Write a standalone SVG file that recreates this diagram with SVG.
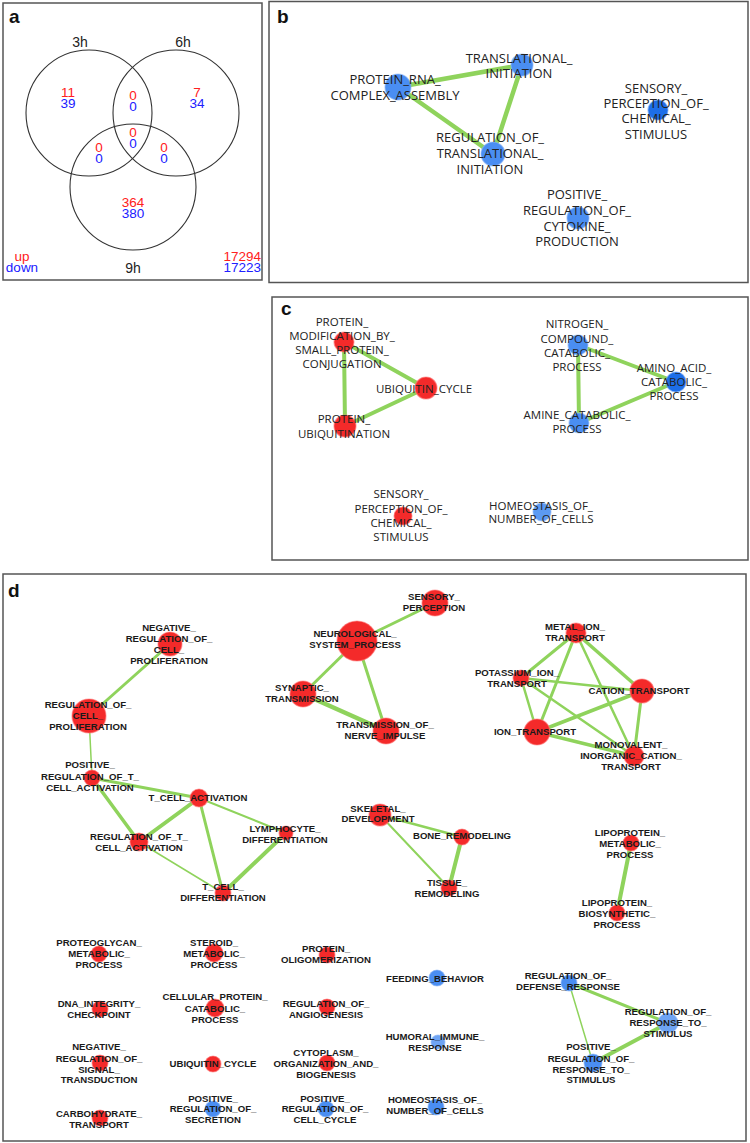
<svg xmlns="http://www.w3.org/2000/svg" width="750" height="1143" viewBox="0 0 750 1143">
<style>
.frame{fill:none;stroke:#555;stroke-width:1.5}
.plab{font-family:"Liberation Sans",Arial,sans-serif;font-weight:bold;font-size:19px;fill:#111}
.venn{fill:none;stroke:#333;stroke-width:1.1}
.vt{font-family:"Liberation Sans",Arial,sans-serif;font-size:13.5px;text-anchor:middle}
.up{fill:#ff2020}.dn{fill:#2020ff}
.vl{font-family:"Liberation Sans",Arial,sans-serif;font-size:14px;fill:#222;text-anchor:middle}
.e{stroke:#8fd35c;stroke-linecap:round;fill:none}
.nr{fill:#f42a2a;stroke:#f77;stroke-width:1.2;stroke-opacity:0.6}
.nb{fill:#4a8ef2;stroke:#8ab4f5;stroke-width:1.2;stroke-opacity:0.6}
.nbd{fill:#1d6ee8;stroke:#6a9ef0;stroke-width:1.2;stroke-opacity:0.6}
.tb{font-family:"Open Sans","Noto Sans",sans-serif;font-size:13px;fill:#222;text-anchor:middle}
.tc{font-family:"Open Sans","Noto Sans",sans-serif;font-size:11.5px;fill:#222;text-anchor:middle}
.td{font-family:"Liberation Sans",Arial,sans-serif;font-weight:bold;font-size:9.6px;fill:#1a1a1a;text-anchor:middle}
</style>

<!-- Panel frames -->
<rect class="frame" x="3" y="3" width="259" height="277"/>
<rect class="frame" x="269" y="1.5" width="479" height="281"/>
<rect class="frame" x="272" y="297" width="476" height="263"/>
<rect class="frame" x="3" y="574" width="743" height="567"/>
<text class="plab" x="9" y="23">a</text>
<text class="plab" x="277" y="23">b</text>
<text class="plab" x="281" y="315">c</text>
<text class="plab" x="8" y="597">d</text>

<!-- Panel a: Venn -->
<g id="venn">
<circle class="venn" cx="89" cy="113" r="63"/>
<circle class="venn" cx="176" cy="113" r="63"/>
<circle class="venn" cx="133" cy="187" r="63"/>
<text class="vl" x="80" y="47">3h</text>
<text class="vl" x="183" y="47">6h</text>
<text class="vl" x="133" y="273">9h</text>
<text class="vt up" x="68" y="97">11</text><text class="vt dn" x="68" y="107.5">39</text>
<text class="vt up" x="133" y="100">0</text><text class="vt dn" x="133" y="110.5">0</text>
<text class="vt up" x="197" y="97">7</text><text class="vt dn" x="197" y="107.5">34</text>
<text class="vt up" x="133" y="137">0</text><text class="vt dn" x="133" y="147.5">0</text>
<text class="vt up" x="99" y="152">0</text><text class="vt dn" x="99" y="162.5">0</text>
<text class="vt up" x="164" y="152">0</text><text class="vt dn" x="164" y="162.5">0</text>
<text class="vt up" x="133" y="207">364</text><text class="vt dn" x="133" y="218">380</text>
<text class="vt up" x="22" y="261">up</text><text class="vt dn" x="22" y="272">down</text>
<text class="vt up" x="261" y="261" style="text-anchor:end">17294</text>
<text class="vt dn" x="261" y="272" style="text-anchor:end">17223</text>
</g>

<!-- Connectors -->
<g id="connectors">
<!-- b -->
<line class="e" stroke-width="4.5" x1="398" y1="87" x2="522" y2="65"/>
<line class="e" stroke-width="4.5" x1="398" y1="87" x2="493" y2="154"/>
<line class="e" stroke-width="4.5" x1="522" y1="65" x2="493" y2="154"/>
<!-- c -->
<line class="e" stroke-width="4" x1="344" y1="342" x2="426" y2="388"/>
<line class="e" stroke-width="4" x1="344" y1="342" x2="345" y2="426"/>
<line class="e" stroke-width="4" x1="426" y1="388" x2="345" y2="426"/>
<line class="e" stroke-width="4" x1="578" y1="345" x2="676" y2="382"/>
<line class="e" stroke-width="4" x1="578" y1="345" x2="579" y2="423"/>
<line class="e" stroke-width="4" x1="579" y1="423" x2="676" y2="382"/>
<!-- d -->
<line class="e" stroke-width="3" x1="170" y1="644" x2="89" y2="716"/>
<line class="e" stroke-width="1.5" x1="89" y1="716" x2="92" y2="778"/>
<line class="e" stroke-width="3" x1="92" y1="778" x2="199" y2="798"/>
<line class="e" stroke-width="3.5" x1="92" y1="778" x2="139" y2="842"/>
<line class="e" stroke-width="4" x1="199" y1="798" x2="139" y2="842"/>
<line class="e" stroke-width="2" x1="199" y1="798" x2="286" y2="833"/>
<line class="e" stroke-width="3" x1="199" y1="798" x2="223" y2="893"/>
<line class="e" stroke-width="1.5" x1="139" y1="842" x2="223" y2="893"/>
<line class="e" stroke-width="4" x1="286" y1="833" x2="223" y2="893"/>
<line class="e" stroke-width="3" x1="357" y1="641" x2="435" y2="603"/>
<line class="e" stroke-width="3" x1="357" y1="641" x2="303" y2="694"/>
<line class="e" stroke-width="3" x1="357" y1="641" x2="386" y2="731"/>
<line class="e" stroke-width="4.5" x1="303" y1="694" x2="386" y2="731"/>
<line class="e" stroke-width="2.5" x1="380" y1="815" x2="462" y2="837"/>
<line class="e" stroke-width="2" x1="380" y1="815" x2="449" y2="888"/>
<line class="e" stroke-width="4" x1="462" y1="837" x2="449" y2="888"/>
<line class="e" stroke-width="3" x1="576" y1="633" x2="521" y2="678"/>
<line class="e" stroke-width="3.5" x1="576" y1="633" x2="642" y2="691"/>
<line class="e" stroke-width="3" x1="576" y1="633" x2="537" y2="732"/>
<line class="e" stroke-width="2.5" x1="576" y1="633" x2="634" y2="756"/>
<line class="e" stroke-width="2.5" x1="521" y1="678" x2="642" y2="691"/>
<line class="e" stroke-width="2.5" x1="521" y1="678" x2="537" y2="732"/>
<line class="e" stroke-width="2.5" x1="521" y1="678" x2="634" y2="756"/>
<line class="e" stroke-width="3.5" x1="642" y1="691" x2="537" y2="732"/>
<line class="e" stroke-width="3" x1="642" y1="691" x2="634" y2="756"/>
<line class="e" stroke-width="3.5" x1="537" y1="732" x2="634" y2="756"/>
<line class="e" stroke-width="4" x1="631" y1="843" x2="617" y2="913"/>
<line class="e" stroke-width="3" x1="569" y1="983" x2="668" y2="1023"/>
<line class="e" stroke-width="1.5" x1="569" y1="983" x2="593" y2="1063"/>
<line class="e" stroke-width="4" x1="668" y1="1023" x2="593" y2="1063"/>
</g>

<!-- Panel b nodes -->
<g id="b_protein_rna_complex_assembly"><circle class="nb" cx="398" cy="87" r="13"/><text class="tb"><tspan x="395" y="84">PROTEIN_RNA_</tspan><tspan x="395" y="100">COMPLEX_ASSEMBLY</tspan></text></g>
<g id="b_translational_initiation"><circle class="nb" cx="522" cy="65" r="11"/><text class="tb"><tspan x="519" y="63">TRANSLATIONAL_</tspan><tspan x="519" y="78">INITIATION</tspan></text></g>
<g id="b_regulation_of_translational_initiation"><circle class="nb" cx="493" cy="154" r="12"/><text class="tb"><tspan x="490" y="142">REGULATION_OF_</tspan><tspan x="490" y="158">TRANSLATIONAL_</tspan><tspan x="490" y="174">INITIATION</tspan></text></g>
<g id="b_sensory_perception_of_chemical_stimulus"><circle class="nbd" cx="658" cy="110" r="10"/><text class="tb"><tspan x="656" y="93">SENSORY_</tspan><tspan x="656" y="108">PERCEPTION_OF_</tspan><tspan x="656" y="123">CHEMICAL_</tspan><tspan x="656" y="139">STIMULUS</tspan></text></g>
<g id="b_positive_regulation_of_cytokine_production"><circle class="nb" cx="578" cy="218" r="11"/><text class="tb"><tspan x="577" y="199">POSITIVE_</tspan><tspan x="577" y="215">REGULATION_OF_</tspan><tspan x="577" y="231">CYTOKINE_</tspan><tspan x="577" y="246">PRODUCTION</tspan></text></g>

<!-- Panel c nodes -->
<g id="c_protein_modification"><circle class="nr" cx="344" cy="342" r="10"/><text class="tc"><tspan x="342" y="326">PROTEIN_</tspan><tspan x="342" y="340">MODIFICATION_BY_</tspan><tspan x="342" y="354">SMALL_PROTEIN_</tspan><tspan x="342" y="368">CONJUGATION</tspan></text></g>
<g id="c_ubiquitin_cycle"><circle class="nr" cx="426" cy="388" r="11"/><text class="tc" x="424" y="393">UBIQUITIN_CYCLE</text></g>
<g id="c_protein_ubiquitination"><circle class="nr" cx="345" cy="426" r="11"/><text class="tc"><tspan x="344" y="423">PROTEIN_</tspan><tspan x="344" y="438">UBIQUITINATION</tspan></text></g>
<g id="c_nitrogen_compound_catabolic_process"><circle class="nb" cx="578" cy="345" r="10"/><text class="tc"><tspan x="577" y="328">NITROGEN_</tspan><tspan x="577" y="343">COMPOUND_</tspan><tspan x="577" y="357">CATABOLIC_</tspan><tspan x="577" y="371">PROCESS</tspan></text></g>
<g id="c_amino_acid_catabolic_process"><circle class="nbd" cx="676" cy="382" r="10"/><text class="tc"><tspan x="674" y="372">AMINO_ACID_</tspan><tspan x="674" y="386">CATABOLIC_</tspan><tspan x="674" y="400">PROCESS</tspan></text></g>
<g id="c_amine_catabolic_process"><circle class="nb" cx="579" cy="423" r="10"/><text class="tc"><tspan x="577" y="419">AMINE_CATABOLIC_</tspan><tspan x="577" y="433">PROCESS</tspan></text></g>
<g id="c_sensory_perception_of_chemical_stimulus"><circle class="nr" cx="403" cy="516" r="9"/><text class="tc"><tspan x="401" y="498">SENSORY_</tspan><tspan x="401" y="513">PERCEPTION_OF_</tspan><tspan x="401" y="527">CHEMICAL_</tspan><tspan x="401" y="541">STIMULUS</tspan></text></g>
<g id="c_homeostasis_of_number_of_cells"><circle class="nb" cx="542" cy="512" r="9" style="fill:#5c9af2"/><text class="tc"><tspan x="541" y="510">HOMEOSTASIS_OF_</tspan><tspan x="541" y="523">NUMBER_OF_CELLS</tspan></text></g>

<!-- Panel d nodes -->
<g id="d_negative_regulation_of_cell_proliferation"><circle class="nr" cx="170" cy="644" r="12"/><text class="td"><tspan x="169" y="631">NEGATIVE_</tspan><tspan x="169" y="642">REGULATION_OF_</tspan><tspan x="169" y="653">CELL_</tspan><tspan x="169" y="664">PROLIFERATION</tspan></text></g>
<g id="d_regulation_of_cell_proliferation"><circle class="nr" cx="89" cy="716" r="17"/><text class="td"><tspan x="88" y="708">REGULATION_OF_</tspan><tspan x="88" y="719">CELL_</tspan><tspan x="88" y="730">PROLIFERATION</tspan></text></g>
<g id="d_positive_regulation_of_t_cell_activation"><circle class="nr" cx="92" cy="778" r="8"/><text class="td"><tspan x="90" y="768">POSITIVE_</tspan><tspan x="90" y="780">REGULATION_OF_T_</tspan><tspan x="90" y="791">CELL_ACTIVATION</tspan></text></g>
<g id="d_t_cell_activation"><circle class="nr" cx="199" cy="798" r="9"/><text class="td" x="198" y="801">T_CELL_ACTIVATION</text></g>
<g id="d_regulation_of_t_cell_activation"><circle class="nr" cx="139" cy="842" r="9"/><text class="td"><tspan x="139" y="840">REGULATION_OF_T_</tspan><tspan x="139" y="851">CELL_ACTIVATION</tspan></text></g>
<g id="d_lymphocyte_differentiation"><circle class="nr" cx="286" cy="833" r="7"/><text class="td"><tspan x="285" y="832">LYMPHOCYTE_</tspan><tspan x="285" y="843">DIFFERENTIATION</tspan></text></g>
<g id="d_t_cell_differentiation"><circle class="nr" cx="223" cy="893" r="8"/><text class="td"><tspan x="223" y="890">T_CELL_</tspan><tspan x="223" y="901">DIFFERENTIATION</tspan></text></g>
<g id="d_sensory_perception"><circle class="nr" cx="435" cy="603" r="13"/><text class="td"><tspan x="434" y="600">SENSORY_</tspan><tspan x="434" y="611">PERCEPTION</tspan></text></g>
<g id="d_neurological_system_process"><circle class="nr" cx="357" cy="641" r="20"/><text class="td"><tspan x="355" y="637">NEUROLOGICAL_</tspan><tspan x="355" y="648">SYSTEM_PROCESS</tspan></text></g>
<g id="d_synaptic_transmission"><circle class="nr" cx="303" cy="694" r="13"/><text class="td"><tspan x="302" y="691">SYNAPTIC_</tspan><tspan x="302" y="702">TRANSMISSION</tspan></text></g>
<g id="d_transmission_of_nerve_impulse"><circle class="nr" cx="386" cy="731" r="13"/><text class="td"><tspan x="385" y="728">TRANSMISSION_OF_</tspan><tspan x="385" y="739">NERVE_IMPULSE</tspan></text></g>
<g id="d_metal_ion_transport"><circle class="nr" cx="576" cy="633" r="10"/><text class="td"><tspan x="575" y="630">METAL_ION_</tspan><tspan x="575" y="641">TRANSPORT</tspan></text></g>
<g id="d_potassium_ion_transport"><circle class="nr" cx="521" cy="678" r="8"/><text class="td"><tspan x="517" y="676">POTASSIUM_ION_</tspan><tspan x="517" y="687">TRANSPORT</tspan></text></g>
<g id="d_cation_transport"><circle class="nr" cx="642" cy="691" r="12"/><text class="td" x="639" y="694">CATION_TRANSPORT</text></g>
<g id="d_ion_transport"><circle class="nr" cx="537" cy="732" r="13"/><text class="td" x="535" y="735">ION_TRANSPORT</text></g>
<g id="d_monovalent_inorganic_cation_transport"><circle class="nr" cx="634" cy="756" r="10"/><text class="td"><tspan x="631" y="748">MONOVALENT_</tspan><tspan x="631" y="759">INORGANIC_CATION_</tspan><tspan x="631" y="770">TRANSPORT</tspan></text></g>
<g id="d_skeletal_development"><circle class="nr" cx="380" cy="815" r="11"/><text class="td"><tspan x="378" y="812">SKELETAL_</tspan><tspan x="378" y="822">DEVELOPMENT</tspan></text></g>
<g id="d_bone_remodeling"><circle class="nr" cx="462" cy="837" r="8"/><text class="td" x="462" y="839">BONE_REMODELING</text></g>
<g id="d_tissue_remodeling"><circle class="nr" cx="449" cy="888" r="8"/><text class="td"><tspan x="447" y="886">TISSUE_</tspan><tspan x="447" y="897">REMODELING</tspan></text></g>
<g id="d_lipoprotein_metabolic_process"><circle class="nr" cx="631" cy="843" r="8"/><text class="td"><tspan x="630" y="836">LIPOPROTEIN_</tspan><tspan x="630" y="847">METABOLIC_</tspan><tspan x="630" y="858">PROCESS</tspan></text></g>
<g id="d_lipoprotein_biosynthetic_process"><circle class="nr" cx="617" cy="913" r="8"/><text class="td"><tspan x="617" y="906">LIPOPROTEIN_</tspan><tspan x="617" y="917">BIOSYNTHETIC_</tspan><tspan x="617" y="928">PROCESS</tspan></text></g>
<g id="d_proteoglycan_metabolic_process"><circle class="nr" cx="99" cy="954" r="8"/><text class="td"><tspan x="99" y="946">PROTEOGLYCAN_</tspan><tspan x="99" y="957">METABOLIC_</tspan><tspan x="99" y="968">PROCESS</tspan></text></g>
<g id="d_steroid_metabolic_process"><circle class="nr" cx="214" cy="953" r="9"/><text class="td"><tspan x="214" y="946">STEROID_</tspan><tspan x="214" y="957">METABOLIC_</tspan><tspan x="214" y="968">PROCESS</tspan></text></g>
<g id="d_protein_oligomerization"><circle class="nr" cx="327" cy="955" r="8"/><text class="td"><tspan x="326" y="952">PROTEIN_</tspan><tspan x="326" y="963">OLIGOMERIZATION</tspan></text></g>
<g id="d_feeding_behavior"><circle class="nb" cx="437" cy="978" r="8"/><text class="td" x="435" y="982">FEEDING_BEHAVIOR</text></g>
<g id="d_regulation_of_defense_response"><circle class="nb" cx="569" cy="983" r="8"/><text class="td"><tspan x="568" y="979">REGULATION_OF_</tspan><tspan x="568" y="990">DEFENSE_RESPONSE</tspan></text></g>
<g id="d_dna_integrity_checkpoint"><circle class="nr" cx="100" cy="1009" r="8"/><text class="td"><tspan x="99" y="1007">DNA_INTEGRITY_</tspan><tspan x="99" y="1018">CHECKPOINT</tspan></text></g>
<g id="d_cellular_protein_catabolic_process"><circle class="nr" cx="215" cy="1008" r="9"/><text class="td"><tspan x="215" y="1000">CELLULAR_PROTEIN_</tspan><tspan x="215" y="1012">CATABOLIC_</tspan><tspan x="215" y="1023">PROCESS</tspan></text></g>
<g id="d_regulation_of_angiogenesis"><circle class="nr" cx="327" cy="1007" r="8"/><text class="td"><tspan x="326" y="1007">REGULATION_OF_</tspan><tspan x="326" y="1018">ANGIOGENESIS</tspan></text></g>
<g id="d_regulation_of_response_to_stimulus"><circle class="nb" cx="668" cy="1023" r="10" style="fill:#6ea4f4"/><text class="td"><tspan x="668" y="1015">REGULATION_OF_</tspan><tspan x="668" y="1026">RESPONSE_TO_</tspan><tspan x="668" y="1037">STIMULUS</tspan></text></g>
<g id="d_humoral_immune_response"><circle class="nb" cx="438" cy="1042" r="7" style="fill:#6ea4f4"/><text class="td"><tspan x="435" y="1040">HUMORAL_IMMUNE_</tspan><tspan x="435" y="1051">RESPONSE</tspan></text></g>
<g id="d_negative_regulation_of_signal_transduction"><circle class="nr" cx="100" cy="1063" r="8"/><text class="td"><tspan x="99" y="1050">NEGATIVE_</tspan><tspan x="99" y="1062">REGULATION_OF_</tspan><tspan x="99" y="1073">SIGNAL_</tspan><tspan x="99" y="1083">TRANSDUCTION</tspan></text></g>
<g id="d_ubiquitin_cycle"><circle class="nr" cx="213" cy="1064" r="8"/><text class="td" x="213" y="1067">UBIQUITIN_CYCLE</text></g>
<g id="d_cytoplasm_organization_and_biogenesis"><circle class="nr" cx="327" cy="1063" r="8"/><text class="td"><tspan x="326" y="1056">CYTOPLASM_</tspan><tspan x="326" y="1067">ORGANIZATION_AND_</tspan><tspan x="326" y="1078">BIOGENESIS</tspan></text></g>
<g id="d_positive_regulation_of_response_to_stimulus"><circle class="nb" cx="593" cy="1063" r="9"/><text class="td"><tspan x="591" y="1050">POSITIVE_</tspan><tspan x="591" y="1062">REGULATION_OF_</tspan><tspan x="591" y="1073">RESPONSE_TO_</tspan><tspan x="591" y="1083">STIMULUS</tspan></text></g>
<g id="d_carbohydrate_transport"><circle class="nr" cx="100" cy="1118" r="8"/><text class="td"><tspan x="99" y="1117">CARBOHYDRATE_</tspan><tspan x="99" y="1128">TRANSPORT</tspan></text></g>
<g id="d_positive_regulation_of_secretion"><circle class="nb" cx="213" cy="1109" r="8"/><text class="td"><tspan x="213" y="1102">POSITIVE_</tspan><tspan x="213" y="1112">REGULATION_OF_</tspan><tspan x="213" y="1123">SECRETION</tspan></text></g>
<g id="d_positive_regulation_of_cell_cycle"><circle class="nb" cx="326" cy="1109" r="8"/><text class="td"><tspan x="325" y="1102">POSITIVE_</tspan><tspan x="325" y="1112">REGULATION_OF_</tspan><tspan x="325" y="1123">CELL_CYCLE</tspan></text></g>
<g id="d_homeostasis_of_number_of_cells"><circle class="nb" cx="436" cy="1107" r="8"/><text class="td"><tspan x="435" y="1103">HOMEOSTASIS_OF_</tspan><tspan x="435" y="1114">NUMBER_OF_CELLS</tspan></text></g>
</svg>
